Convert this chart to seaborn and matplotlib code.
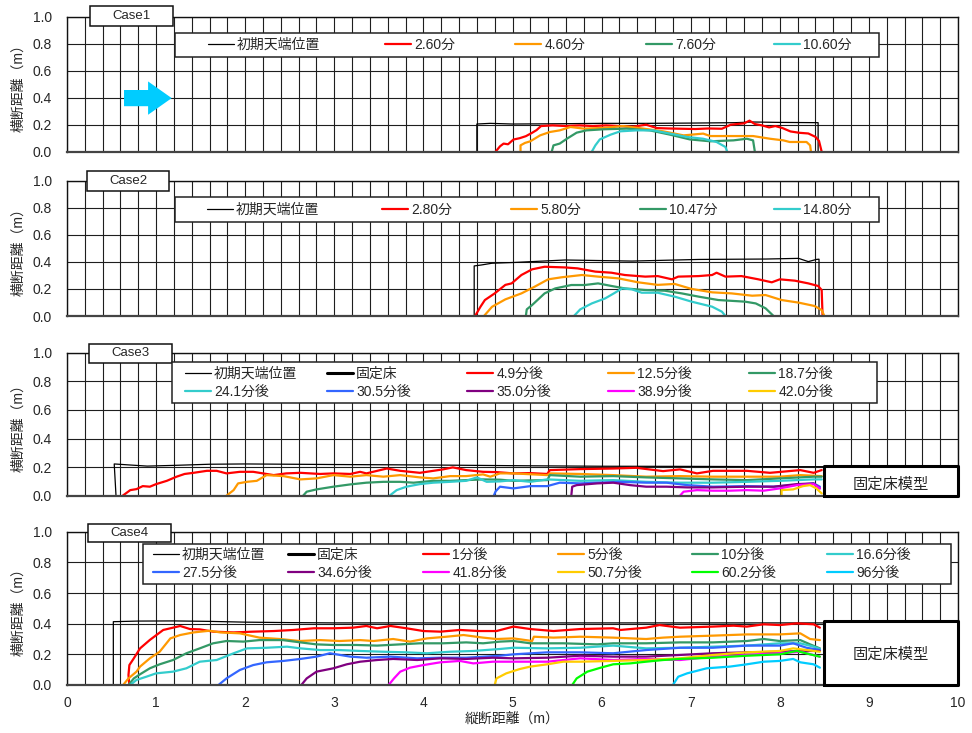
import numpy as np
import pandas as pd
import matplotlib
matplotlib.use("Agg")
import matplotlib.pyplot as plt
from matplotlib.patches import Rectangle, FancyArrow
import seaborn as sns

# ---------------- data: Case1 ----------------
c1_init_x = [4.60, 4.60, 4.75, 5.0, 5.5, 6.0, 6.5, 7.0, 7.5, 7.7, 8.0, 8.43, 8.43]
c1_init_y = [0, 0.205, 0.21, 0.205, 0.207, 0.21, 0.21, 0.212, 0.215, 0.22, 0.217, 0.215, 0]
c1_t260_x = [4.81, 4.86, 4.90, 4.95, 5.01, 5.08, 5.15, 5.22, 5.27, 5.32, 5.45, 5.6, 5.75, 5.9, 6.05, 6.2, 6.35, 6.5,
             6.62, 6.75, 6.9, 7.05, 7.2, 7.35, 7.45, 7.52, 7.6, 7.66, 7.72, 7.8, 7.88, 7.95, 8.03, 8.12, 8.22, 8.32,
             8.40, 8.44, 8.47]
c1_t260_y = [0, 0.04, 0.06, 0.055, 0.09, 0.10, 0.115, 0.14, 0.16, 0.19, 0.195, 0.19, 0.195, 0.19, 0.195, 0.19, 0.185,
             0.2, 0.175, 0.172, 0.17, 0.168, 0.172, 0.17, 0.2, 0.205, 0.21, 0.23, 0.205, 0.195, 0.18, 0.19, 0.175,
             0.15, 0.14, 0.135, 0.11, 0.08, 0]
c1_t460_x = [5.09, 5.09, 5.14, 5.20, 5.31, 5.42, 5.53, 5.65, 5.80, 6.02, 6.24, 6.47, 6.69, 6.92, 7.14, 7.22, 7.44,
             7.70, 7.89, 8.04, 8.11, 8.30, 8.34, 8.35]
c1_t460_y = [0, 0.047, 0.065, 0.077, 0.121, 0.146, 0.158, 0.183, 0.171, 0.176, 0.19, 0.171, 0.151, 0.121, 0.134,
             0.116, 0.116, 0.116, 0.096, 0.084, 0.072, 0.072, 0.047, 0]
c1_t760_x = [5.44, 5.46, 5.53, 5.61, 5.72, 5.83, 6.02, 6.28, 6.54, 6.77, 6.99, 7.22, 7.48, 7.63, 7.70, 7.72]
c1_t760_y = [0, 0.047, 0.06, 0.096, 0.141, 0.158, 0.166, 0.171, 0.158, 0.126, 0.091, 0.077, 0.084, 0.096, 0.084, 0]
c1_t1060_x = [5.89, 5.93, 5.98, 6.10, 6.21, 6.39, 6.58, 6.77, 6.96, 7.14, 7.29, 7.39, 7.41]
c1_t1060_y = [0, 0.047, 0.091, 0.126, 0.151, 0.158, 0.158, 0.134, 0.109, 0.096, 0.072, 0.035, 0]

# ---------------- data: Case2 ----------------
c2_init_x = [4.57, 4.57, 4.65, 4.77, 5.03, 5.59, 6.34, 7.09, 7.84, 8.21, 8.32, 8.41, 8.44, 8.44]
c2_init_y = [0, 0.37, 0.377, 0.39, 0.396, 0.414, 0.406, 0.418, 0.421, 0.426, 0.402, 0.418, 0.42, 0]
c2_t280_x = [4.58, 4.64, 4.69, 4.80, 4.92, 4.99, 5.10, 5.22, 5.36, 5.59, 5.73, 5.93, 6.11, 6.26, 6.49, 6.63, 6.79,
             6.86, 7.09, 7.24, 7.29, 7.39, 7.57, 7.76, 7.91, 8.00, 8.17, 8.32, 8.43, 8.47, 8.48]
c2_t280_y = [0, 0.068, 0.118, 0.167, 0.23, 0.241, 0.303, 0.345, 0.364, 0.359, 0.352, 0.328, 0.32, 0.303, 0.291,
             0.295, 0.271, 0.291, 0.295, 0.303, 0.32, 0.291, 0.295, 0.271, 0.249, 0.271, 0.261, 0.241, 0.222, 0.192, 0]
c2_t580_x = [4.68, 4.77, 4.92, 5.10, 5.25, 5.40, 5.55, 5.78, 5.96, 6.19, 6.41, 6.63, 6.82, 7.01, 7.24, 7.46, 7.69,
             7.84, 8.02, 8.21, 8.39, 8.47, 8.50]
c2_t580_y = [0, 0.068, 0.123, 0.167, 0.217, 0.271, 0.286, 0.303, 0.291, 0.278, 0.249, 0.23, 0.237, 0.2, 0.175,
             0.167, 0.15, 0.155, 0.118, 0.099, 0.074, 0.044, 0]
c2_t1047_x = [5.15, 5.16, 5.22, 5.36, 5.48, 5.66, 5.81, 5.96, 6.11, 6.26, 6.49, 6.71, 6.90, 7.09, 7.31, 7.61, 7.73,
              7.84, 7.93]
c2_t1047_y = [0, 0.049, 0.081, 0.167, 0.204, 0.229, 0.229, 0.241, 0.222, 0.204, 0.192, 0.187, 0.167, 0.143, 0.118,
              0.106, 0.093, 0.057, 0]
c2_t1480_x = [5.69, 5.76, 5.89, 6.04, 6.15, 6.23, 6.34, 6.45, 6.63, 6.82, 7.01, 7.24, 7.35, 7.39]
c2_t1480_y = [0, 0.049, 0.093, 0.13, 0.172, 0.204, 0.197, 0.172, 0.172, 0.143, 0.106, 0.069, 0.032, 0]

# ---------------- data: Case3 ----------------
c3_init_x = [0.55, 0.53, 0.7, 0.9, 1.2, 1.6, 2.0, 3.0, 4.0, 5.0, 6.0, 7.0, 8.0, 8.5]
c3_init_y = [0, 0.222, 0.215, 0.207, 0.212, 0.22, 0.222, 0.218, 0.215, 0.21, 0.206, 0.205, 0.203, 0.203]
c3_bed_x = [8.5, 8.5, 10.0, 10.0, 8.5]
c3_bed_y = [0, 0.21, 0.21, 0, 0]
c3_t49_x = [0.625, 0.71, 0.78, 0.85, 0.93, 1.0, 1.12, 1.23, 1.32, 1.42, 1.57, 1.68, 1.79, 1.94, 2.09, 2.20, 2.32,
            2.46, 2.62, 2.84, 2.99, 3.18, 3.29, 3.36, 3.59, 3.74, 3.96, 4.22, 4.33, 4.48, 4.67, 4.82, 5.01, 5.20,
            5.39, 5.42, 5.76, 6.13, 6.39, 6.69, 6.88, 7.07, 7.25, 7.63, 7.89, 8.23, 8.38, 8.47]
c3_t49_y = [0, 0.039, 0.046, 0.067, 0.063, 0.081, 0.104, 0.133, 0.152, 0.16, 0.174, 0.174, 0.156, 0.167, 0.167,
            0.156, 0.144, 0.156, 0.16, 0.152, 0.156, 0.152, 0.167, 0.156, 0.19, 0.174, 0.16, 0.184, 0.198, 0.179,
            0.167, 0.165, 0.156, 0.158, 0.152, 0.179, 0.186, 0.19, 0.195, 0.172, 0.184, 0.156, 0.174, 0.174, 0.16,
            0.179, 0.16, 0.179]
c3_t125_x = [1.79, 1.87, 1.92, 2.02, 2.13, 2.24, 2.43, 2.62, 2.80, 2.99, 3.18, 3.36, 3.55, 3.74, 3.96, 4.11, 4.30,
             4.48, 4.67, 4.75, 4.86, 5.01, 5.20, 5.39, 5.42, 5.76, 6.13, 6.50, 6.88, 7.25, 7.63, 8.00, 8.23, 8.47]
c3_t125_y = [0, 0.039, 0.086, 0.097, 0.104, 0.144, 0.137, 0.114, 0.121, 0.144, 0.133, 0.144, 0.133, 0.144, 0.128,
             0.121, 0.137, 0.137, 0.149, 0.133, 0.156, 0.156, 0.15, 0.144, 0.156, 0.152, 0.144, 0.133, 0.137, 0.133,
             0.133, 0.133, 0.144, 0.137]
c3_t187_x = [2.65, 2.69, 2.80, 2.99, 3.18, 3.36, 3.55, 3.74, 3.89, 4.11, 4.30, 4.48, 4.67, 4.86, 5.01, 5.20, 5.39,
             5.42, 5.76, 6.13, 6.50, 6.88, 7.25, 7.63, 8.00, 8.38, 8.47]
c3_t187_y = [0, 0.028, 0.044, 0.063, 0.079, 0.091, 0.097, 0.097, 0.091, 0.104, 0.104, 0.109, 0.114, 0.112, 0.104,
             0.107, 0.109, 0.144, 0.133, 0.137, 0.128, 0.121, 0.114, 0.109, 0.121, 0.133, 0.133]
c3_t241_x = [3.62, 3.70, 3.81, 3.96, 4.11, 4.30, 4.48, 4.60, 4.71, 4.86, 5.01, 5.20, 5.39, 5.76, 6.13, 6.50, 6.88,
             7.25, 7.63, 8.00, 8.38, 8.47]
c3_t241_y = [0, 0.039, 0.063, 0.081, 0.091, 0.097, 0.104, 0.128, 0.097, 0.100, 0.109, 0.097, 0.114, 0.104, 0.109,
             0.097, 0.091, 0.091, 0.097, 0.104, 0.114, 0.114]
c3_t305_x = [4.79, 4.81, 4.86, 5.01, 5.20, 5.39, 5.53, 5.76, 5.95, 6.21, 6.50, 6.73, 6.96, 7.25, 7.63, 7.93, 8.15,
             8.38, 8.45]
c3_t305_y = [0, 0.03, 0.063, 0.051, 0.067, 0.067, 0.091, 0.086, 0.091, 0.097, 0.091, 0.091, 0.074, 0.063, 0.067,
             0.063, 0.074, 0.086, 0.063]
c3_t350_x = [5.66, 5.67, 5.72, 5.95, 6.13, 6.32, 6.50, 6.73, 6.96, 7.25, 7.63, 7.93, 8.19, 8.38, 8.45]
c3_t350_y = [0, 0.063, 0.074, 0.086, 0.091, 0.074, 0.063, 0.063, 0.058, 0.058, 0.063, 0.063, 0.081, 0.086, 0.051]
c3_t389_x = [6.88, 6.92, 7.07, 7.25, 7.44, 7.63, 7.82, 8.00, 8.19, 8.38, 8.45]
c3_t389_y = [0, 0.028, 0.039, 0.035, 0.035, 0.039, 0.035, 0.051, 0.074, 0.081, 0.051]
c3_t420_x = [8.02, 8.02, 8.15, 8.26, 8.34, 8.41, 8.47]
c3_t420_y = [0, 0.039, 0.044, 0.067, 0.074, 0.051, 0.016]

# ---------------- data: Case4 ----------------
c4_init_x = [0.52, 0.52, 0.8, 1.2, 1.6, 2.0, 2.5, 3.0, 4.0, 5.0, 6.0, 7.0, 8.0, 8.5]
c4_init_y = [0, 0.413, 0.417, 0.418, 0.415, 0.41, 0.407, 0.405, 0.405, 0.405, 0.405, 0.405, 0.405, 0.405]
c4_bed_x = [8.5, 8.5, 10.0, 10.0, 8.5]
c4_bed_y = [0, 0.42, 0.42, 0, 0]
c4_t1_x = [0.70, 0.69, 0.70, 0.75, 0.82, 0.93, 1.08, 1.19, 1.27, 1.38, 1.49, 1.64, 1.87, 2.09, 2.32, 2.54, 2.77,
           2.99, 3.21, 3.36, 3.48, 3.63, 3.81, 4.00, 4.19, 4.41, 4.63, 4.82, 5.01, 5.20, 5.46, 5.76, 6.13, 6.21,
           6.50, 6.65, 6.88, 7.25, 7.48, 7.63, 7.82, 8.00, 8.19, 8.38, 8.45]
c4_t1_y = [0, 0.065, 0.13, 0.174, 0.239, 0.294, 0.359, 0.374, 0.385, 0.365, 0.363, 0.348, 0.343, 0.348, 0.352,
           0.359, 0.37, 0.37, 0.374, 0.385, 0.37, 0.385, 0.37, 0.352, 0.348, 0.359, 0.352, 0.352, 0.381, 0.365,
           0.352, 0.365, 0.37, 0.359, 0.374, 0.391, 0.374, 0.381, 0.387, 0.381, 0.396, 0.391, 0.402, 0.396, 0.374]
c4_t5_x = [0.63, 0.69, 0.78, 0.82, 0.93, 1.04, 1.16, 1.27, 1.42, 1.60, 1.72, 1.94, 2.16, 2.39, 2.61, 2.84, 3.06,
           3.29, 3.44, 3.66, 3.85, 4.04, 4.26, 4.45, 4.67, 4.82, 5.01, 5.22, 5.24, 5.46, 5.76, 6.13, 6.50, 6.69,
           6.88, 7.25, 7.63, 8.00, 8.23, 8.34, 8.45]
c4_t5_y = [0, 0.043, 0.087, 0.12, 0.174, 0.217, 0.304, 0.326, 0.343, 0.354, 0.343, 0.337, 0.309, 0.3, 0.287,
           0.293, 0.287, 0.293, 0.287, 0.3, 0.283, 0.304, 0.315, 0.326, 0.309, 0.3, 0.304, 0.287, 0.315, 0.309,
           0.315, 0.309, 0.3, 0.309, 0.315, 0.322, 0.33, 0.33, 0.337, 0.3, 0.293]
c4_t10_x = [0.69, 0.75, 0.82, 0.93, 1.04, 1.19, 1.34, 1.49, 1.64, 1.79, 1.98, 2.16, 2.42, 2.62, 2.80, 2.99, 3.25,
            3.48, 3.74, 3.96, 4.22, 4.48, 4.67, 4.86, 5.01, 5.20, 5.57, 5.95, 6.13, 6.50, 6.88, 7.25, 7.63, 7.82,
            8.00, 8.23, 8.34, 8.45]
c4_t10_y = [0, 0.043, 0.07, 0.109, 0.135, 0.163, 0.207, 0.239, 0.272, 0.287, 0.283, 0.293, 0.293, 0.278, 0.265,
            0.261, 0.261, 0.257, 0.265, 0.272, 0.272, 0.278, 0.272, 0.283, 0.287, 0.272, 0.272, 0.265, 0.272,
            0.272, 0.278, 0.278, 0.287, 0.3, 0.287, 0.293, 0.265, 0.239]
c4_t166_x = [0.71, 0.78, 0.89, 1.00, 1.19, 1.34, 1.49, 1.68, 1.87, 2.02, 2.24, 2.47, 2.62, 2.84, 3.06, 3.29, 3.55,
             3.81, 4.04, 4.30, 4.56, 4.86, 5.01, 5.39, 5.76, 6.13, 6.50, 6.88, 7.25, 7.63, 8.00, 8.23, 8.38, 8.45]
c4_t166_y = [0, 0.033, 0.054, 0.076, 0.087, 0.109, 0.152, 0.163, 0.207, 0.239, 0.243, 0.25, 0.239, 0.228, 0.228,
             0.222, 0.217, 0.213, 0.207, 0.217, 0.222, 0.235, 0.243, 0.239, 0.243, 0.257, 0.239, 0.243, 0.25, 0.257,
             0.272, 0.272, 0.25, 0.235]
c4_t275_x = [1.70, 1.79, 1.94, 2.09, 2.24, 2.43, 2.62, 2.80, 2.95, 3.18, 3.36, 3.63, 3.93, 4.19, 4.48, 4.86, 5.01,
             5.39, 5.76, 6.13, 6.50, 6.88, 7.25, 7.63, 8.00, 8.15, 8.30, 8.45]
c4_t275_y = [0, 0.043, 0.098, 0.13, 0.148, 0.157, 0.17, 0.185, 0.207, 0.185, 0.178, 0.185, 0.174, 0.178, 0.178,
             0.191, 0.2, 0.213, 0.213, 0.207, 0.228, 0.243, 0.243, 0.257, 0.257, 0.272, 0.243, 0.228]
c4_t346_x = [2.63, 2.69, 2.80, 2.99, 3.14, 3.29, 3.48, 3.66, 3.93, 4.19, 4.48, 4.78, 5.01, 5.39, 5.76, 6.13, 6.50,
             6.88, 7.25, 7.63, 8.00, 8.23, 8.45]
c4_t346_y = [0, 0.043, 0.087, 0.109, 0.135, 0.152, 0.163, 0.17, 0.163, 0.174, 0.17, 0.178, 0.174, 0.178, 0.191,
             0.185, 0.185, 0.196, 0.207, 0.213, 0.217, 0.222, 0.222]
c4_t418_x = [3.61, 3.67, 3.74, 3.85, 4.00, 4.19, 4.41, 4.56, 4.78, 5.01, 5.39, 5.76, 6.13, 6.50, 6.88, 7.25, 7.63,
             8.00, 8.23, 8.45]
c4_t418_y = [0, 0.043, 0.087, 0.113, 0.13, 0.148, 0.157, 0.141, 0.152, 0.152, 0.152, 0.174, 0.163, 0.17, 0.163,
             0.185, 0.196, 0.207, 0.217, 0.185]
c4_t507_x = [4.80, 4.82, 4.93, 5.08, 5.20, 5.39, 5.57, 5.76, 6.13, 6.50, 6.88, 7.25, 7.63, 8.00, 8.15, 8.30, 8.45]
c4_t507_y = [0, 0.043, 0.076, 0.104, 0.12, 0.135, 0.152, 0.152, 0.157, 0.163, 0.174, 0.196, 0.213, 0.222, 0.239,
             0.228, 0.217]
c4_t602_x = [5.67, 5.72, 5.84, 5.99, 6.13, 6.32, 6.50, 6.69, 6.88, 7.25, 7.63, 8.00, 8.19, 8.34, 8.45]
c4_t602_y = [0, 0.043, 0.087, 0.113, 0.135, 0.141, 0.152, 0.163, 0.17, 0.178, 0.191, 0.2, 0.222, 0.2, 0.185]
c4_t96_x = [6.80, 6.86, 6.96, 7.18, 7.44, 7.63, 7.82, 8.00, 8.15, 8.23, 8.38, 8.45]
c4_t96_y = [0, 0.054, 0.076, 0.109, 0.12, 0.135, 0.152, 0.157, 0.17, 0.148, 0.135, 0.113]

# ---------------- labels ----------------
case_titles = ["Case1", "Case2", "Case3", "Case4"]
x_ticks = [0, 1, 2, 3, 4, 5, 6, 7, 8, 9, 10]
y_ticks = [0.0, 0.2, 0.4, 0.6, 0.8, 1.0]
y_label = "横断距離（m）"
x_label = "縦断距離（m）"
bed_text = "固定床模型"

# ---------------- style ----------------
sns.set_style("white")
plt.rcParams["font.family"] = ["Liberation Sans", "Noto Sans CJK JP"]

RED, ORANGE, GREEN, TEAL = "#FF0000", "#FF9900", "#339966", "#33CCCC"
BLUE, PURPLE, MAGENTA, GOLD = "#3366FF", "#800080", "#FF00FF", "#FFCC00"
LIME, SKY = "#00FF00", "#00CCFF"

FS = 10
W, H = 972, 733
fig = plt.figure(figsize=(W / 100, H / 100), dpi=100)


def fx(px):
    return px / W


def fy(py):
    return 1 - py / H


def make_axes(top, bottom):
    left, right = 67, 958
    return fig.add_axes([fx(left), fy(bottom), (right - left) / W, (bottom - top) / H])


def draw(ax, xs, ys, color, lw=1.6, z=2.5, **kw):
    df = pd.DataFrame({"x": xs, "y": ys})
    sns.lineplot(data=df, x="x", y="y", sort=False, estimator=None, color=color,
                 lw=lw, ax=ax, zorder=z, **kw)
    return ax.lines[-1]


def style_axes(ax, show_x):
    ax.set_xlim(0, 10)
    ax.set_ylim(0, 1.0)
    ax.set_xticks(x_ticks)
    ax.set_xticks(np.arange(0, 10.001, 0.2), minor=True)
    ax.set_yticks(y_ticks)
    ax.set_yticklabels([f"{v:.1f}" for v in y_ticks], fontsize=FS)
    if show_x:
        ax.set_xticklabels([str(v) for v in x_ticks], fontsize=FS)
        ax.set_xlabel(x_label, fontsize=FS, labelpad=1)
    else:
        ax.set_xticklabels([])
        ax.set_xlabel("")
    ax.set_ylabel(y_label, fontsize=FS, labelpad=5)
    ax.tick_params(axis="both", which="both", length=0)
    ax.tick_params(axis="y", pad=11)
    ax.tick_params(axis="x", pad=8)
    ax.grid(True, axis="x", which="both", color="#1e1e1e", lw=0.8)
    ax.grid(True, axis="y", which="major", color="#1e1e1e", lw=0.8)
    ax.set_axisbelow(True)
    for s in ax.spines.values():
        s.set_color("#111111")
        s.set_linewidth(1.0)
    ax.spines["bottom"].set_color("#444444")
    ax.spines["bottom"].set_linewidth(1.6)


def case_box(x0, x1, y0, y1, text):
    fig.add_artist(Rectangle((fx(x0), fy(y1)), (x1 - x0) / W, (y1 - y0) / H,
                             transform=fig.transFigure, fc="white", ec="#111111", lw=1.1, zorder=4))
    fig.text(fx((x0 + x1) / 2), fy((y0 + y1) / 2), text, ha="center", va="center",
             fontsize=9.5, zorder=5)


def legend_box(frame, col_x, y_mid, handles, labels, ncol, nrow):
    # white framed panel with one small legend per column so the columns sit on a fixed pitch
    x0, x1, y0, y1 = frame
    fig.add_artist(Rectangle((fx(x0), fy(y1)), (x1 - x0) / W, (y1 - y0) / H,
                             transform=fig.transFigure, fc="white", ec="#222222", lw=1.1, zorder=4))
    for c in range(ncol):
        idx = [r * ncol + c for r in range(nrow)]
        fig.legend([handles[i] for i in idx], [labels[i] for i in idx],
                   loc="center left", bbox_to_anchor=(fx(col_x[c]), fy(y_mid)),
                   frameon=False, fontsize=FS, handlelength=1.85, handletextpad=0.25,
                   borderpad=0, borderaxespad=0, labelspacing=0.3)


def bed_block(ax, bx, by, text_y):
    ax.add_patch(Rectangle((8.5, 0), 1.5, max(by), fc="white", ec="none", zorder=3))
    line = draw(ax, bx, by, "#000000", lw=2.2, z=4, clip_on=False)
    ax.text(9.25, text_y, bed_text, ha="center", va="center", fontsize=11, zorder=5)
    return line


# ---------------- Case1 ----------------
ax1 = make_axes(16.7, 151.7)
h1 = [draw(ax1, c1_init_x, c1_init_y, "#000000", lw=0.9),
      draw(ax1, c1_t260_x, c1_t260_y, RED),
      draw(ax1, c1_t460_x, c1_t460_y, ORANGE),
      draw(ax1, c1_t760_x, c1_t760_y, GREEN),
      draw(ax1, c1_t1060_x, c1_t1060_y, TEAL)]
l1 = ["初期天端位置", "2.60分", "4.60分", "7.60分", "10.60分"]
ax1.add_patch(FancyArrow(0.64, 0.397, 0.535, 0, width=0.12, head_width=0.247, head_length=0.265,
                         length_includes_head=True, color="#00CCFF", lw=0, zorder=3))
style_axes(ax1, False)
case_box(90, 172.7, 6, 25.7, case_titles[0])
legend_box((175, 879, 33, 57), [208, 385, 515, 646, 774], 45, h1, l1, 5, 1)

# ---------------- Case2 ----------------
ax2 = make_axes(180.7, 316)
h2 = [draw(ax2, c2_init_x, c2_init_y, "#000000", lw=0.9),
      draw(ax2, c2_t280_x, c2_t280_y, RED),
      draw(ax2, c2_t580_x, c2_t580_y, ORANGE),
      draw(ax2, c2_t1047_x, c2_t1047_y, GREEN),
      draw(ax2, c2_t1480_x, c2_t1480_y, TEAL)]
l2 = ["初期天端位置", "2.80分", "5.80分", "10.47分", "14.80分"]
style_axes(ax2, False)
case_box(87, 169, 170.7, 190.7, case_titles[1])
legend_box((175, 879, 197, 222), [207, 382, 511, 640, 774], 210, h2, l2, 5, 1)

# ---------------- Case3 ----------------
ax3 = make_axes(352.7, 495.7)
h3 = [draw(ax3, c3_init_x, c3_init_y, "#000000", lw=0.9)]
bed3 = bed_block(ax3, c3_bed_x, c3_bed_y, 0.08)
h3 += [bed3,
       draw(ax3, c3_t49_x, c3_t49_y, RED),
       draw(ax3, c3_t125_x, c3_t125_y, ORANGE),
       draw(ax3, c3_t187_x, c3_t187_y, GREEN),
       draw(ax3, c3_t241_x, c3_t241_y, TEAL),
       draw(ax3, c3_t305_x, c3_t305_y, BLUE),
       draw(ax3, c3_t350_x, c3_t350_y, PURPLE),
       draw(ax3, c3_t389_x, c3_t389_y, MAGENTA),
       draw(ax3, c3_t420_x, c3_t420_y, GOLD)]
l3 = ["初期天端位置", "固定床", "4.9分後", "12.5分後", "18.7分後",
      "24.1分後", "30.5分後", "35.0分後", "38.9分後", "42.0分後"]
style_axes(ax3, False)
case_box(89, 172, 344, 363, case_titles[2])
legend_box((172, 877, 362, 403), [185, 327, 467, 608, 749], 383, h3, l3, 5, 2)

# ---------------- Case4 ----------------
ax4 = make_axes(531.7, 685)
h4 = [draw(ax4, c4_init_x, c4_init_y, "#000000", lw=0.9)]
bed4 = bed_block(ax4, c4_bed_x, c4_bed_y, 0.2)
h4 += [bed4,
       draw(ax4, c4_t1_x, c4_t1_y, RED),
       draw(ax4, c4_t5_x, c4_t5_y, ORANGE),
       draw(ax4, c4_t10_x, c4_t10_y, GREEN),
       draw(ax4, c4_t166_x, c4_t166_y, TEAL),
       draw(ax4, c4_t275_x, c4_t275_y, BLUE),
       draw(ax4, c4_t346_x, c4_t346_y, PURPLE),
       draw(ax4, c4_t418_x, c4_t418_y, MAGENTA),
       draw(ax4, c4_t507_x, c4_t507_y, GOLD),
       draw(ax4, c4_t602_x, c4_t602_y, LIME),
       draw(ax4, c4_t96_x, c4_t96_y, SKY)]
l4 = ["初期天端位置", "固定床", "1分後", "5分後", "10分後", "16.6分後",
      "27.5分後", "34.6分後", "41.8分後", "50.7分後", "60.2分後", "96分後"]
style_axes(ax4, True)
case_box(88, 171, 524, 542, case_titles[3])
legend_box((143, 951, 544, 584), [153, 288, 423, 558, 692, 827], 564, h4, l4, 6, 2)

fig.savefig("out.png", dpi=100)
